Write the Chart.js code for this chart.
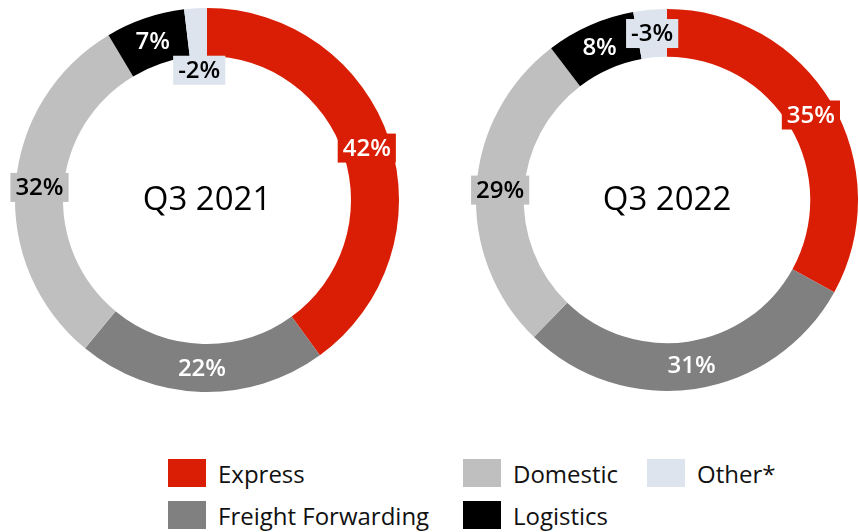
<!DOCTYPE html>
<html>
<head>
<meta charset="utf-8">
<script src="https://cdn.jsdelivr.net/npm/chart.js@4/dist/chart.umd.min.js"></script>
<style>
  html, body { margin: 0; padding: 0; background: #fff; }
  #wrap { position: relative; width: 859px; height: 532px; overflow: hidden; font-family: 'Open Sans', sans-serif; }
  #left { position: absolute; left: 0; top: 0; }
  #right { position: absolute; left: 430px; top: 0; }
  #legend { position: absolute; left: 168px; top: 459px; display: grid;
    grid-template-columns: 295px 184px 200px; grid-auto-flow: column;
    grid-template-rows: 28px 28px; row-gap: 14px; }
  .item { display: flex; align-items: center; height: 28px; font-size: 24px; color: #111; white-space: nowrap; }
  .swatch { width: 38px; height: 28px; margin-right: 12px; flex: none; }
</style>
</head>
<body>
<div id="wrap">
  <div id="left"><canvas id="c2021"></canvas></div>
  <div id="right"><canvas id="c2022"></canvas></div>
  <div id="legend"></div>
</div>
<script>
const categories = ['Express', 'Freight Forwarding', 'Domestic', 'Logistics', 'Other*'];
const periods = ['Q3 2021', 'Q3 2022'];
const share2021 = [42, 22, 32, 7, -2];
const share2022 = [35, 31, 29, 8, -3];

const colors = ['#da1e05', '#808080', '#bfbfbf', '#000000', '#dee4ee'];
const textColors = ['#ffffff', '#ffffff', '#000000', '#ffffff', '#000000'];

// percentage boxes sitting on each ring segment; a box that would collide
// with an earlier one is pushed toward the centre
const sliceLabels = {
  id: 'sliceLabels',
  afterDatasetsDraw(chart) {
    const ctx = chart.ctx;
    const shares = chart.options.plugins.sliceLabels.shares;
    const arcs = chart.getDatasetMeta(0).data;
    const placed = [];
    ctx.save();
    ctx.font = '600 24px "Open Sans"';
    ctx.textAlign = 'center';
    ctx.textBaseline = 'middle';
    arcs.forEach((arc, i) => {
      const p = arc.getProps(['x', 'y', 'startAngle', 'endAngle', 'innerRadius', 'outerRadius'], true);
      const mid = (p.startAngle + p.endAngle) / 2;
      const text = shares[i] + '%';
      const w = ctx.measureText(text).width + 10;
      const h = 29;
      let r = (p.innerRadius + p.outerRadius) / 2;
      let cx, cy, box;
      for (;;) {
        cx = p.x + Math.cos(mid) * r;
        cy = p.y + Math.sin(mid) * r;
        box = { l: cx - w / 2, r: cx + w / 2, t: cy - h / 2, b: cy + h / 2 };
        const hit = placed.some(o => box.l < o.r && box.r > o.l && box.t < o.b && box.b > o.t);
        if (!hit || r < p.innerRadius - 40) break;
        r -= 1;
      }
      placed.push(box);
      ctx.fillStyle = colors[i];
      ctx.fillRect(box.l, box.t, w, h);
      ctx.fillStyle = textColors[i];
      ctx.fillText(text, cx, cy + 1);
    });
    ctx.restore();
  }
};

const centerText = {
  id: 'centerText',
  afterDraw(chart) {
    const ctx = chart.ctx;
    const a = chart.chartArea;
    ctx.save();
    ctx.font = '400 33px "Open Sans"';
    ctx.fillStyle = '#000';
    ctx.textAlign = 'center';
    ctx.textBaseline = 'middle';
    ctx.fillText(chart.options.plugins.centerText.text, (a.left + a.right) / 2, (a.top + a.bottom) / 2 + 1);
    ctx.restore();
  }
};

function makeDonut(id, shares, period, width, padding) {
  const canvas = document.getElementById(id);
  canvas.style.width = width + 'px';
  canvas.style.height = '400px';
  canvas.width = width;
  canvas.height = 400;
  return new Chart(canvas, {
    type: 'doughnut',
    data: {
      labels: categories,
      datasets: [{
        data: shares.map(v => Math.abs(v)),
        backgroundColor: colors,
        borderWidth: 0
      }]
    },
    options: {
      responsive: false,
      animation: false,
      cutout: '75%',
      layout: { padding },
      plugins: {
        legend: { display: false },
        tooltip: { enabled: false },
        sliceLabels: { shares },
        centerText: { text: period }
      }
    },
    plugins: [sliceLabels, centerText]
  });
}

makeDonut('c2021', share2021, periods[0], 414, { left: 15, right: 15, top: 8, bottom: 8 });
makeDonut('c2022', share2022, periods[1], 429, { left: 46, right: 1, top: 9, bottom: 9 });

document.getElementById('legend').innerHTML = categories.map((name, i) =>
  `<div class="item"><span class="swatch" style="background:${colors[i]}"></span>${name}</div>`
).join('');
</script>
</body>
</html>
